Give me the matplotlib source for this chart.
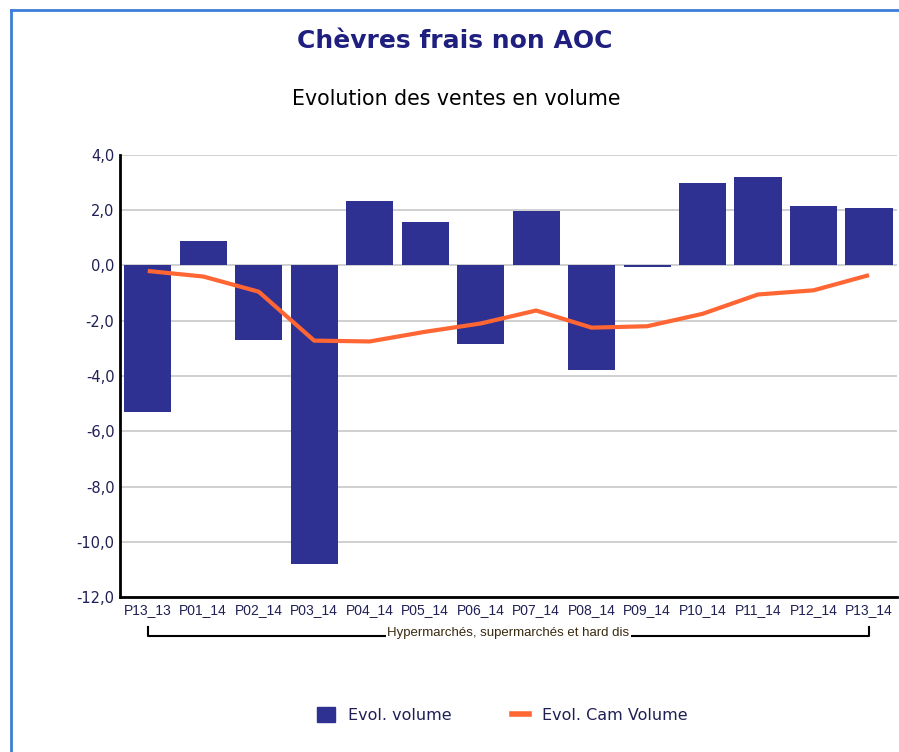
import matplotlib.pyplot as plt
from matplotlib.lines import Line2D
from matplotlib.patches import Patch
import numpy as np

periods = ['P13_13', 'P01_14', 'P02_14', 'P03_14', 'P04_14', 'P05_14', 'P06_14',
           'P07_14', 'P08_14', 'P09_14', 'P10_14', 'P11_14', 'P12_14', 'P13_14']
evol_volume = [-5.3, 0.88, -2.68, -10.8, 2.35, 1.56, -2.85, 1.96, -3.77, -0.05,
               2.97, 3.19, 2.14, 2.07]
evol_cam = [-0.2, -0.4, -0.95, -2.72, -2.75, -2.4, -2.1, -1.63, -2.25, -2.2,
            -1.75, -1.05, -0.9, -0.35]
yticks = [4, 2, 0, -2, -4, -6, -8, -10, -12]
group_label = 'Hypermarchés, supermarchés et hard dis'

navy = '#2E3192'
orange = '#FF6633'
txt = '#1f1f55'

plt.rcParams['font.family'] = ['DejaVu Sans']

fig = plt.figure(figsize=(8.99, 7.52), dpi=100)

# cadre bleu
fig.add_artist(Line2D([0.0122, 0.0122], [0, 0.987], color='#3B7DD8', lw=2))
fig.add_artist(Line2D([0.0122, 1.0], [0.987, 0.987], color='#3B7DD8', lw=2))

ax = fig.add_axes([0.1335, 0.206, 0.864, 0.588])
x = np.arange(len(periods))
ax.bar(x, evol_volume, width=0.85, color=navy, zorder=2)
ax.plot(x, evol_cam, color=orange, lw=3, zorder=3, solid_capstyle='butt')

ax.set_xlim(-0.5, len(periods) - 0.5)
ax.set_ylim(-12, 4)
ax.set_yticks(yticks)
ax.set_yticklabels([f'{v:.1f}'.replace('.', ',') for v in yticks],
                   color=txt, fontsize=10.5)
ax.set_xticks(x)
ax.set_xticklabels(periods, color=txt, fontsize=10, family='Liberation Sans')
ax.tick_params(length=0, pad=4)
ax.tick_params(axis='x', pad=4)
ax.grid(axis='y', color='#c8c8c8', lw=1.2, zorder=0)
for s in ['top', 'right']:
    ax.spines[s].set_visible(False)
ax.spines['left'].set_linewidth(2)
ax.spines['bottom'].set_linewidth(2)

# accolade de groupe
tr = ax.get_xaxis_transform()
ax.plot([0, 0, 13, 13], [-0.068, -0.087, -0.087, -0.068], color='black', lw=1.5,
        transform=tr, clip_on=False)
ax.text(6.5, -0.082, group_label, transform=tr, ha='center', va='center',
        fontsize=9.5, color='#3a2a10', family='Liberation Sans',
        bbox=dict(facecolor='white', edgecolor='none', pad=1), clip_on=False)

fig.text(0.506, 0.945, 'Chèvres frais non AOC', ha='center', va='center',
         fontsize=18, fontweight='bold', color='#1F1F80')
fig.text(0.508, 0.868, 'Evolution des ventes en volume', ha='center', va='center',
         fontsize=14.8, color='black')

handles = [Patch(color=navy), Line2D([], [], color=orange, lw=4)]
fig.legend(handles, ['Evol. volume', 'Evol. Cam Volume'], loc='center',
           bbox_to_anchor=(0.559, 0.049), ncol=2, frameon=False, fontsize=11.5,
           handlelength=1.1, handleheight=1.1, columnspacing=3.8, labelcolor=txt)

fig.savefig('out.png', dpi=100)
